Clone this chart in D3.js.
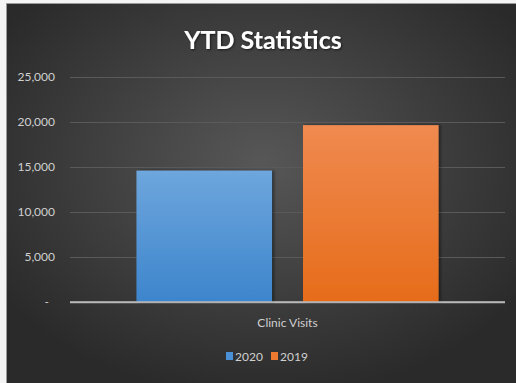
<!DOCTYPE html>
<html>
<head>
<meta charset="utf-8">
<script src="https://cdn.jsdelivr.net/npm/d3@7"></script>
<style>
  html, body { margin: 0; padding: 0; background: #ffffff; }
  svg { display: block; }
</style>
</head>
<body>
<svg id="chart" width="516" height="383"></svg>
<script>
// Chart data
const categories = ["Clinic Visits"];
const seriesNames = ["2020", "2019"];
const values2020 = [14600];
const values2019 = [19650];
const yTicks = [0, 5000, 10000, 15000, 20000, 25000];
const seriesColors = {
  "2020": { top: "#6ea6dd", bottom: "#3d85cc", swatch: "#4a90d6" },
  "2019": { top: "#f08a50", bottom: "#e66c1a", swatch: "#ee7a30" }
};

const rows = categories.map((c, i) => ({
  category: c,
  "2020": values2020[i],
  "2019": values2019[i]
}));

const W = 516, H = 383;
const svg = d3.select("#chart");
const defs = svg.append("defs");

// Background panel: dark radial gradient with lighter centre
const bg = defs.append("radialGradient").attr("id", "bgGrad")
  .attr("cx", "50%").attr("cy", "42%").attr("r", "62%");
bg.append("stop").attr("offset", "0%").attr("stop-color", "#575757");
bg.append("stop").attr("offset", "100%").attr("stop-color", "#2a2a2a");

seriesNames.forEach(s => {
  const g = defs.append("linearGradient").attr("id", "bar" + s)
    .attr("x1", 0).attr("y1", 0).attr("x2", 0).attr("y2", 1);
  g.append("stop").attr("offset", "0%").attr("stop-color", seriesColors[s].top);
  g.append("stop").attr("offset", "100%").attr("stop-color", seriesColors[s].bottom);
});

const shadow = defs.append("filter").attr("id", "barShadow")
  .attr("x", "-10%").attr("y", "-10%").attr("width", "130%").attr("height", "120%");
shadow.append("feDropShadow").attr("dx", 2).attr("dy", 0).attr("stdDeviation", 1.5)
  .attr("flood-color", "#000").attr("flood-opacity", 0.45);

const titleShadow = defs.append("filter").attr("id", "titleShadow");
titleShadow.append("feDropShadow").attr("dx", 1).attr("dy", 1).attr("stdDeviation", 1.2)
  .attr("flood-color", "#000").attr("flood-opacity", 0.6);

// Outer frame (light edge on top and left)
svg.append("rect").attr("x", 0).attr("y", 0).attr("width", W).attr("height", H).attr("fill", "#f4f4f4");
svg.append("rect").attr("x", 6).attr("y", 3).attr("width", W - 6).attr("height", H - 3).attr("fill", "#9a9a9a");
svg.append("rect").attr("x", 7).attr("y", 4).attr("width", W - 7).attr("height", H - 4).attr("fill", "url(#bgGrad)");

const margin = { left: 70, right: 11, top: 77, bottom: 81 };
const plotW = W - margin.left - margin.right;
const plotBottom = H - margin.bottom;

const y = d3.scaleLinear().domain([0, 25000]).range([plotBottom, margin.top]);
const x0 = d3.scaleBand().domain(categories)
  .range([margin.left, W - margin.right]).paddingInner(0).paddingOuter(0.22);
const x1 = d3.scaleBand().domain(seriesNames)
  .range([0, x0.bandwidth()]).paddingInner(0.186).paddingOuter(0);

// Gridlines and y tick labels
const yAxis = d3.axisLeft(y).tickValues(yTicks)
  .tickSize(-plotW)
  .tickFormat(d => d === 0 ? "-" : d3.format(",")(d));
const yg = svg.append("g").attr("transform", `translate(${margin.left},0)`).call(yAxis);
yg.select(".domain").remove();
yg.selectAll(".tick line").attr("stroke", "#5c5c5c").attr("stroke-width", 1)
  .attr("stroke", d => d === 0 ? "#b8b8b8" : "#5a5a5a")
  .attr("stroke-width", d => d === 0 ? 1.5 : 1);
yg.selectAll(".tick text")
  .attr("x", -15)
  .attr("fill", "#d0d0d0")
  .style("font-family", "Lato, 'Open Sans', sans-serif")
  .style("font-size", "12px")
  .attr("dx", d => d === 0 ? -6 : 0);

// Bars
const groups = svg.append("g").selectAll("g").data(rows).join("g")
  .attr("transform", d => `translate(${x0(d.category)},0)`);
groups.selectAll("rect")
  .data(d => seriesNames.map(s => ({ key: s, value: d[s] })))
  .join("rect")
  .attr("x", d => x1(d.key))
  .attr("width", x1.bandwidth())
  .attr("y", d => y(d.value))
  .attr("height", d => y(0) - y(d.value))
  .attr("fill", d => `url(#bar${d.key})`)
  .attr("filter", "url(#barShadow)");

// Redraw the baseline over the bars
svg.append("line")
  .attr("x1", margin.left).attr("x2", W - margin.right)
  .attr("y1", y(0)).attr("y2", y(0))
  .attr("stroke", "#b8b8b8").attr("stroke-width", 1.5);

// Category label
svg.append("g").selectAll("text").data(categories).join("text")
  .attr("x", d => x0(d) + x0.bandwidth() / 2)
  .attr("y", 327)
  .attr("text-anchor", "middle")
  .attr("fill", "#d0d0d0")
  .style("font-family", "Lato, 'Open Sans', sans-serif")
  .style("font-size", "12px")
  .text(d => d);

// Title
svg.append("text")
  .attr("x", 263).attr("y", 49)
  .attr("text-anchor", "middle")
  .attr("fill", "#ffffff")
  .attr("filter", "url(#titleShadow)")
  .style("font-family", "Lato, 'Open Sans', sans-serif")
  .style("font-weight", "bold")
  .style("font-size", "25px")
  .text("YTD Statistics");

// Legend
const legendX = [226, 271];
const legend = svg.append("g").selectAll("g").data(seriesNames).join("g")
  .attr("transform", (d, i) => `translate(${legendX[i]},352)`);
legend.append("rect").attr("width", 7).attr("height", 8)
  .attr("fill", d => seriesColors[d].swatch);
legend.append("text").attr("x", 9).attr("y", 8.5)
  .attr("fill", "#d0d0d0")
  .style("font-family", "Lato, 'Open Sans', sans-serif")
  .style("font-size", "12px")
  .text(d => d);
</script>
</body>
</html>
